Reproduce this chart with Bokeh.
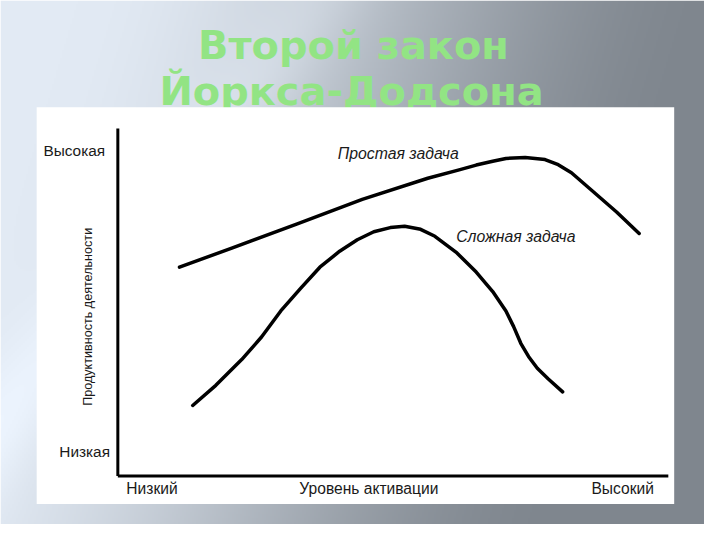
import numpy as np
from bokeh.plotting import figure
from bokeh.models import Range1d, ColumnDataSource
from bokeh.core.properties import value
from bokeh.embed import file_html
from bokeh.resources import INLINE

# ---------------- data (units 0..100 on both axes) ----------------
title_lines = ["Второй закон", "Йоркса-Додсона"]

simple_x = [11.2, 20.7, 32.6, 44.4, 56.3, 62.0, 65.1, 68.1, 70.5, 74.0, 77.6, 80.0, 82.4, 85.8, 90.6, 94.7]
simple_y = [60.1, 65.6, 72.6, 79.6, 85.7, 88.1, 89.5, 90.6, 91.4, 91.7, 91.1, 89.6, 87.3, 82.6, 76.0, 69.8]

complex_x = [13.6, 17.8, 22.5, 26.1, 29.6, 33.2, 36.7, 40.3, 43.5, 46.5, 49.5, 52.1, 55.0, 57.6,
             61.6, 65.1, 68.1, 70.5, 71.9, 73.2, 74.6, 76.2, 78.2, 80.8]
complex_y = [20.3, 26.1, 33.5, 40.0, 47.5, 54.0, 60.1, 64.7, 68.0, 70.3, 71.5, 71.9, 71.0, 69.0,
             64.2, 58.7, 53.1, 47.5, 43.0, 38.2, 34.4, 31.0, 27.9, 24.2]

curve_labels = ["Простая задача", "Сложная задача"]
y_tick_labels = ["Высокая", "Низкая"]
y_tick_values = [93.6, 7.0]
x_tick_labels = ["Низкий", "Уровень активации", "Высокий"]
x_tick_values = [6.2, 45.6, 91.7]
y_axis_title = "Продуктивность деятельности"
axis_min, axis_max = 0, 100

# ---------------- layout (reference pixel geometry, 720x540 fitted into the figure) ----------------
W, H = 704, 524
REF_W, REF_H = 720, 540
X0_PX, SX = 120.0, 5.63  # x=0 at ref px 120, 5.63 ref px per unit
Y0_PX, SY = 490.0, 3.58  # y=0 at ref px 490, 3.58 ref px per unit
K = W / REF_W            # font scale


def ux(px):
    return (px - X0_PX) / SX


def uy(py):
    return (Y0_PX - py) / SY


def fs(px):
    return "%.1fpx" % (px * K)


xr = Range1d(ux(0), ux(REF_W))
yr = Range1d(uy(REF_H), uy(0))

p = figure(width=W, height=H, x_range=xr, y_range=yr, toolbar_location=None,
           output_backend="svg", min_border=0, x_axis_location=None, y_axis_location=None)
p.grid.visible = False
p.outline_line_color = None
p.background_fill_color = "white"
p.border_fill_color = "white"

# ---------------- gradient background ----------------
hh, ww = H // 2, W // 2
Xs = (np.arange(ww) + 0.5) / ww * REF_W
Ys = REF_H - (np.arange(hh) + 0.5) / hh * REF_H   # row 0 = bottom
XX, YY = np.meshgrid(Xs, Ys)
t = (XX + 0.3 * YY - 80.0) / 660.0
t = np.clip(t, 0, 1)
t = t * t * (3 - 2 * t)
light = np.array([226, 234, 244], dtype=float)
dark = np.array([127, 134, 142], dtype=float)
rgb = light[None, None, :] * (1 - t[..., None]) + dark[None, None, :] * t[..., None]
d = XX + 0.75 * YY
streak = np.exp(-((d - 330.0) / 55.0) ** 2) * 12.0
rgb = np.clip(rgb + streak[..., None] * (1 - 0.5 * t[..., None]), 0, 255).astype(np.uint32)
img = ((255 << 24) | (rgb[..., 2] << 16) | (rgb[..., 1] << 8) | rgb[..., 0]).astype(np.uint32)
p.image_rgba(image=[img], x=xr.start, y=yr.start, dw=xr.end - xr.start, dh=yr.end - yr.start)

# ---------------- title ----------------
p.text(x=[ux(361), ux(359)], y=[uy(45.5), uy(93.5)], text=title_lines,
       text_font=value("DejaVu Sans"), text_font_style="bold", text_font_size=fs(40.8),
       text_align="center", text_baseline="middle", text_color="#92e484")

# ---------------- white panel ----------------
p.quad(left=ux(37), right=ux(689), top=uy(110), bottom=uy(519),
       fill_color="white", line_color=None)

# ---------------- axes ----------------
p.line(x=[axis_min, axis_min], y=[axis_min, axis_max], line_color="black", line_width=3)
p.line(x=[axis_min, axis_max], y=[axis_min, axis_min], line_color="black", line_width=3)

p.text(x=[ux(107), ux(112)], y=y_tick_values, text=y_tick_labels,
       text_font=value("Liberation Sans"), text_font_size=fs(15.8),
       text_align="right", text_baseline="middle", text_color="#1a1a1a")
p.text(x=x_tick_values, y=[uy(503)] * len(x_tick_values), text=x_tick_labels,
       text_font=value("Liberation Sans"), text_font_size=fs(16.0),
       text_align="center", text_baseline="middle", text_color="#1a1a1a")
p.text(x=[ux(89)], y=[uy(326)], text=[y_axis_title], angle=np.pi / 2,
       text_font=value("Liberation Sans"), text_font_size=fs(12.9),
       text_align="center", text_baseline="middle", text_color="#1a1a1a")

# ---------------- curves ----------------
src_s = ColumnDataSource(dict(x=simple_x, y=simple_y))
src_c = ColumnDataSource(dict(x=complex_x, y=complex_y))
p.line("x", "y", source=src_s, line_color="black", line_width=3.5,
       line_join="round", line_cap="round")
p.line("x", "y", source=src_c, line_color="black", line_width=3.5,
       line_join="round", line_cap="round")

p.text(x=[ux(345), ux(466)], y=[uy(158), uy(243)], text=curve_labels,
       text_font=value("Liberation Sans"), text_font_style="italic", text_font_size=fs(16.2),
       text_align="left", text_baseline="middle", text_color="#1a1a1a")

open("out.html", "w").write(file_html(p, INLINE))
